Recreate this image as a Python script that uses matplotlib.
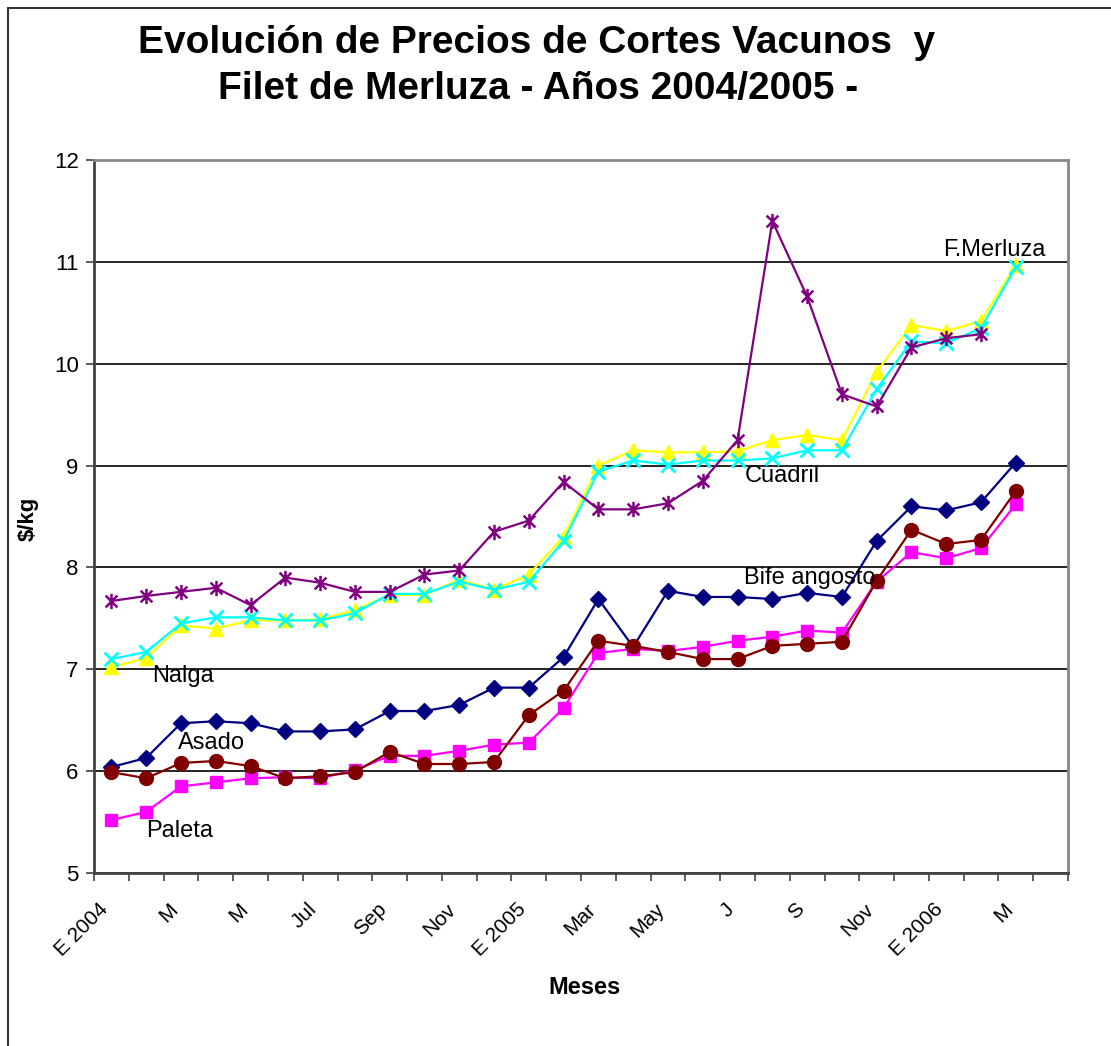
import matplotlib
matplotlib.use("Agg")
import matplotlib.pyplot as plt
import numpy as np
from matplotlib.path import Path
from matplotlib.patches import Rectangle
from matplotlib.transforms import ScaledTranslation

plt.rcParams['font.family'] = ['Liberation Sans', 'DejaVu Sans']

# 1. DATA (Jan 2004 .. Apr 2006, one slot per month)
meses = ['E 2004', 'F', 'M', 'A', 'M', 'J', 'Jul', 'A', 'Sep', 'O', 'Nov', 'D',
         'E 2005', 'F', 'Mar', 'A', 'May', 'J', 'J', 'A', 'S', 'O', 'Nov', 'D',
         'E 2006', 'F', 'M', 'A']
etiquetas = ['E 2004', 'M', 'M', 'Jul', 'Sep', 'Nov', 'E 2005', 'Mar', 'May',
             'J', 'S', 'Nov', 'E 2006', 'M']

bife_angosto = [6.04, 6.13, 6.47, 6.49, 6.47, 6.39, 6.39, 6.41, 6.59, 6.59, 6.65, 6.82, 6.82, 7.12,
                7.69, 7.22, 7.77, 7.71, 7.71, 7.69, 7.75, 7.71, 8.26, 8.60, 8.56, 8.64, 9.03]
paleta = [5.52, 5.60, 5.85, 5.89, 5.93, 5.94, 5.93, 6.01, 6.15, 6.15, 6.20, 6.26, 6.28, 6.62,
          7.16, 7.20, 7.18, 7.22, 7.28, 7.32, 7.38, 7.36, 7.86, 8.15, 8.09, 8.19, 8.62]
asado = [5.99, 5.93, 6.08, 6.10, 6.05, 5.93, 5.95, 5.99, 6.19, 6.07, 6.07, 6.09, 6.55, 6.79,
         7.28, 7.23, 7.17, 7.10, 7.10, 7.23, 7.25, 7.27, 7.87, 8.37, 8.23, 8.27, 8.75]
nalga = [7.02, 7.11, 7.43, 7.40, 7.48, 7.48, 7.49, 7.58, 7.73, 7.73, 7.88, 7.78, 7.93, 8.30,
         9.00, 9.15, 9.13, 9.13, 9.14, 9.25, 9.30, 9.25, 9.92, 10.38, 10.32, 10.42, 10.97]
cuadril = [7.10, 7.17, 7.45, 7.51, 7.51, 7.48, 7.48, 7.55, 7.74, 7.74, 7.86, 7.78, 7.86, 8.26,
           8.94, 9.05, 9.01, 9.05, 9.05, 9.07, 9.15, 9.15, 9.75, 10.22, 10.20, 10.35, 10.95]
f_merluza = [7.67, 7.72, 7.76, 7.80, 7.63, 7.90, 7.85, 7.76, 7.76, 7.93, 7.97, 8.35, 8.46, 8.84,
             8.57, 8.57, 8.63, 8.85, 9.25, 11.40, 10.66, 9.70, 9.58, 10.16, 10.25, 10.29, np.nan]

# 2. PLOT
fig = plt.figure(figsize=(11.11, 10.46), dpi=100)
ax = fig.add_axes([94 / 1111, 1 - 873 / 1046, (1068 - 94) / 1111, (873 - 160) / 1046])

# outer chart frame (right/bottom run off the picture)
fig.patches.append(Rectangle((8 / 1111, -0.05), 1.2, 1.05 - 8 / 1046,
                             transform=fig.transFigure, fill=False,
                             edgecolor='#333333', linewidth=1.5))

# asterisk marker like Excel's star
asterisco = Path([(-1, -1), (1, 1), (-1, 1), (1, -1), (0, -1.3), (0, 1.3)],
                 [Path.MOVETO, Path.LINETO, Path.MOVETO, Path.LINETO, Path.MOVETO, Path.LINETO])

x = np.arange(27)
ax.plot(x, bife_angosto, color='#000080', marker='D', markersize=8, linewidth=1.6)
ax.plot(x, paleta, color='#FF00FF', marker='s', markersize=9, linewidth=1.6)
ax.plot(x, asado, color='#800000', marker='o', markersize=10, linewidth=1.6)
ax.plot(x, nalga, color='#FFFF00', marker='^', markersize=10, linewidth=1.6)
ax.plot(x, cuadril, color='#00FFFF', marker='x', markersize=10, markeredgewidth=2, linewidth=1.6)
ax.plot(x, f_merluza, color='#800080', marker=asterisco, markersize=11, markeredgewidth=1.8,
        markerfacecolor='none', linewidth=1.6)

# series labels
fs = 17
ax.text(1.17, 6.93, 'Nalga', fontsize=fs, va='center')
ax.text(1.91, 6.28, 'Asado', fontsize=fs, va='center')
ax.text(1.0, 5.41, 'Paleta', fontsize=fs, va='center')
ax.text(18.2, 7.90, 'Bife angosto', fontsize=fs, va='center')
ax.text(18.2, 8.90, 'Cuadril', fontsize=fs, va='center')
ax.text(23.9, 11.12, 'F.Merluza', fontsize=fs, va='center')

# 3. FORMATTING
ax.set_xlim(-0.5, len(meses) - 0.5)
ax.set_ylim(5, 12)
ax.set_yticks(range(5, 13))
ax.yaxis.grid(True, color='black', linewidth=1.2)
ax.set_axisbelow(True)

ax.set_xticks(np.arange(0, len(meses), 2))
ax.set_xticklabels(etiquetas, rotation=45, ha='right', va='center', rotation_mode='anchor')
ax.set_xticks(np.arange(len(meses) + 1) - 0.5, minor=True)
ax.tick_params(axis='x', which='major', length=0, pad=24, labelsize=15)
ax.tick_params(axis='x', which='minor', length=6, width=1.2, color='#444444')
ax.tick_params(axis='y', length=6, width=1.2, color='#444444', labelsize=16, pad=5)
for lab in ax.get_xticklabels():
    lab.set_transform(lab.get_transform() + ScaledTranslation(-0.06, 0, fig.dpi_scale_trans))

for side in ['left', 'bottom']:
    ax.spines[side].set_color('#444444')
    ax.spines[side].set_linewidth(2)
for side in ['top', 'right']:
    ax.spines[side].set_color('#888888')
    ax.spines[side].set_linewidth(2)

fig.text(28 / 1111, 1 - 519 / 1046, '$/kg', fontsize=16, fontweight='bold',
         rotation=90, ha='center', va='center')
fig.text(584 / 1111, 1 - 988 / 1046, 'Meses', fontsize=17, fontweight='bold',
         ha='center', va='center')

fig.text(537 / 1111, 1 - 53 / 1046, 'Evolución de Precios de Cortes Vacunos  y',
         fontsize=28, fontweight='bold', ha='center', va='baseline')
fig.text(538 / 1111, 1 - 99 / 1046, 'Filet de Merluza - Años 2004/2005 -',
         fontsize=28, fontweight='bold', ha='center', va='baseline')

fig.savefig('out.png', dpi=100)
